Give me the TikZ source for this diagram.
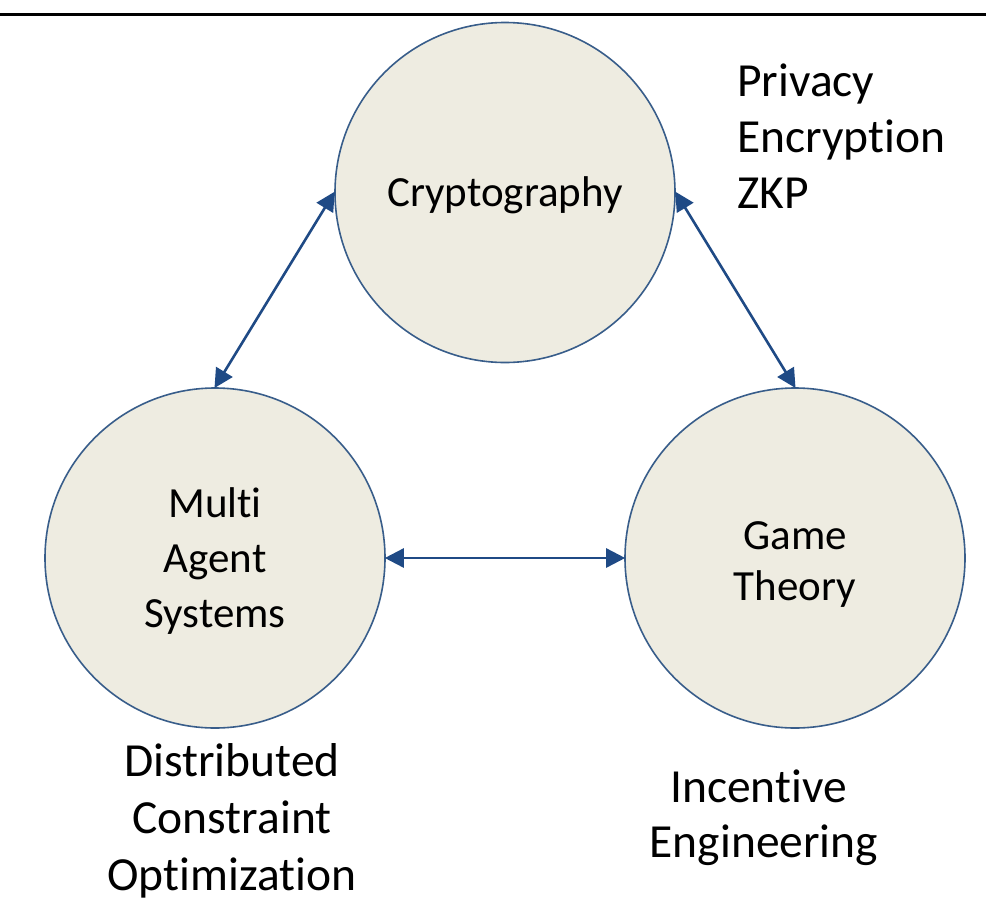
\documentclass[tikz,border=0pt]{standalone}
\usepackage{fontspec}
\setmainfont{Carlito}[Ligatures=NoCommon]
\usetikzlibrary{arrows.meta}
\definecolor{circfill}{HTML}{EEECE1}
\definecolor{circline}{HTML}{385D8A}
\definecolor{arrowblue}{HTML}{1F4A85}
\tikzset{
  topic/.style={circle, draw=circline, line width=1.6pt, fill=circfill, minimum size=340pt, inner sep=0pt},
  link/.style={draw=arrowblue, line width=2.6pt, {Triangle[length=19pt,width=19pt]}-{Triangle[length=19pt,width=19pt]}, shorten <=-1pt, shorten >=-1pt},
  intext/.style={font=\fontsize{43}{55}\selectfont, align=center, inner sep=0pt},
  outtext/.style={font=\fontsize{47.5}{57}\selectfont, inner sep=0pt},
}
\begin{document}
\begin{tikzpicture}[x=1pt,y=-1pt]
\useasboundingbox (0,0) rectangle (986,900);
\coordinate (rl) at (0,14);
\coordinate (rr) at (986,14);
\draw[line width=3pt] (rl) -- (rr);

\node[topic] (crypto) at (505,192.5) {};
\node[topic] (mas) at (215,558) {};
\node[topic] (gt) at (795,558) {};

% anchor=base of a multi-line node lies on the baseline of its last line
\node[intext, anchor=base] (cryptolbl) at (505,206) {Cryptography};
\node[intext, anchor=base] (maslbl) at (215,627) {Multi\\Agent\\Systems};
\node[intext, anchor=base, font=\fontsize{43}{51}\selectfont] (gtlbl) at (795,600) {Game\\Theory};

\node[outtext, anchor=base west, align=left, font=\fontsize{47.5}{56}\selectfont] (privlbl) at (737,208) {Privacy\\Encryption\\ZKP};
\node[outtext, anchor=base, align=center] (dcolbl) at (232,890) {Distributed\\Constraint\\Optimization};
\node[outtext, anchor=base, align=center, font=\fontsize{47.5}{55}\selectfont] (inclbl) at (764,857) {Incentive\kern0.23em\\Engineering};

\draw[link] (crypto.west) -- (mas.north);
\draw[link] (crypto.east) -- (gt.north);
\draw[link] (mas.east) -- (gt.west);
\end{tikzpicture}
\end{document}
